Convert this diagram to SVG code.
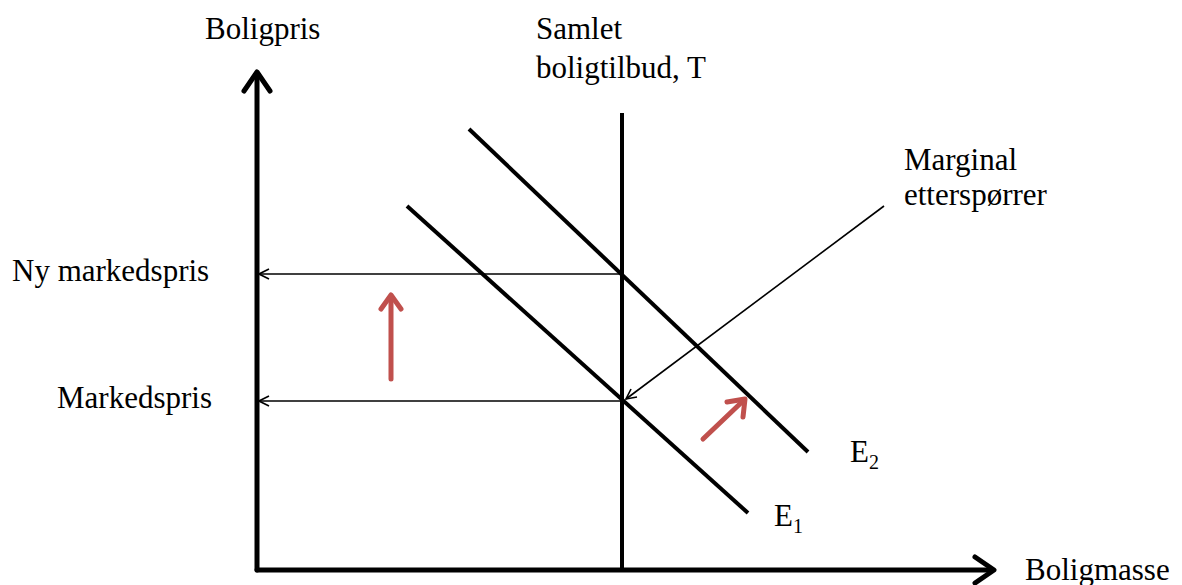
<svg xmlns="http://www.w3.org/2000/svg" width="1182" height="585" viewBox="0 0 1182 585">
<defs>
<style>
text{font-family:"Liberation Serif","Times New Roman",serif;font-size:31px;fill:#000}
.ax{stroke:#000;stroke-width:5;fill:none;stroke-linecap:round;stroke-linejoin:round}
.dl{stroke:#000;stroke-width:4;fill:none}
.th{stroke:#000;stroke-width:1.6;fill:none}
.rd{stroke:#C0504D;stroke-width:5;fill:none;stroke-linecap:round;stroke-linejoin:round}
</style>
<marker id="open" viewBox="0 0 12 12" refX="11" refY="6" markerWidth="12" markerHeight="12" markerUnits="userSpaceOnUse" orient="auto">
<path d="M1,1 L11,6 L1,11" fill="none" stroke="#000" stroke-width="1.6"/>
</marker>
</defs>
<g id="axes">
<line class="ax" x1="257" y1="570" x2="257" y2="74"/>
<polyline class="ax" points="244,91 257,72 270,91"/>
<line class="ax" x1="257" y1="570" x2="992" y2="570"/>
<polyline class="ax" points="975,557 994,570 975,583"/>
</g>
<g id="supply"><line class="dl" x1="622" y1="113" x2="622" y2="570"/></g>
<g id="E1"><line class="dl" x1="407" y1="206" x2="748" y2="513"/></g>
<g id="E2"><line class="dl" x1="469" y1="129" x2="808" y2="452"/></g>
<g id="connectors">
<line class="th" x1="622" y1="274" x2="259" y2="274" marker-end="url(#open)"/>
<line class="th" x1="622" y1="401" x2="259" y2="401" marker-end="url(#open)"/>
<line class="th" x1="884" y1="206" x2="626" y2="399" marker-end="url(#open)"/>
</g>
<g id="red-arrows">
<line class="rd" x1="391" y1="379" x2="391" y2="297"/>
<polyline class="rd" points="381,309 391,295 401,309"/>
<line class="rd" x1="703" y1="439" x2="744" y2="400"/>
<polyline class="rd" points="727,402 745,399 743,417"/>
</g>
<g id="labels">
<text x="205" y="39">Boligpris</text>
<text x="536" y="39">Samlet</text>
<text x="536" y="78">boligtilbud, T</text>
<text x="904" y="170">Marginal</text>
<text x="904" y="205">etterspørrer</text>
<text x="12" y="281">Ny markedspris</text>
<text x="57" y="408">Markedspris</text>
<text x="850" y="462">E<tspan font-size="20" dy="7">2</tspan></text>
<text x="774" y="526">E<tspan font-size="20" dy="7">1</tspan></text>
<text x="1025" y="580">Boligmasse</text>
</g>
</svg>
